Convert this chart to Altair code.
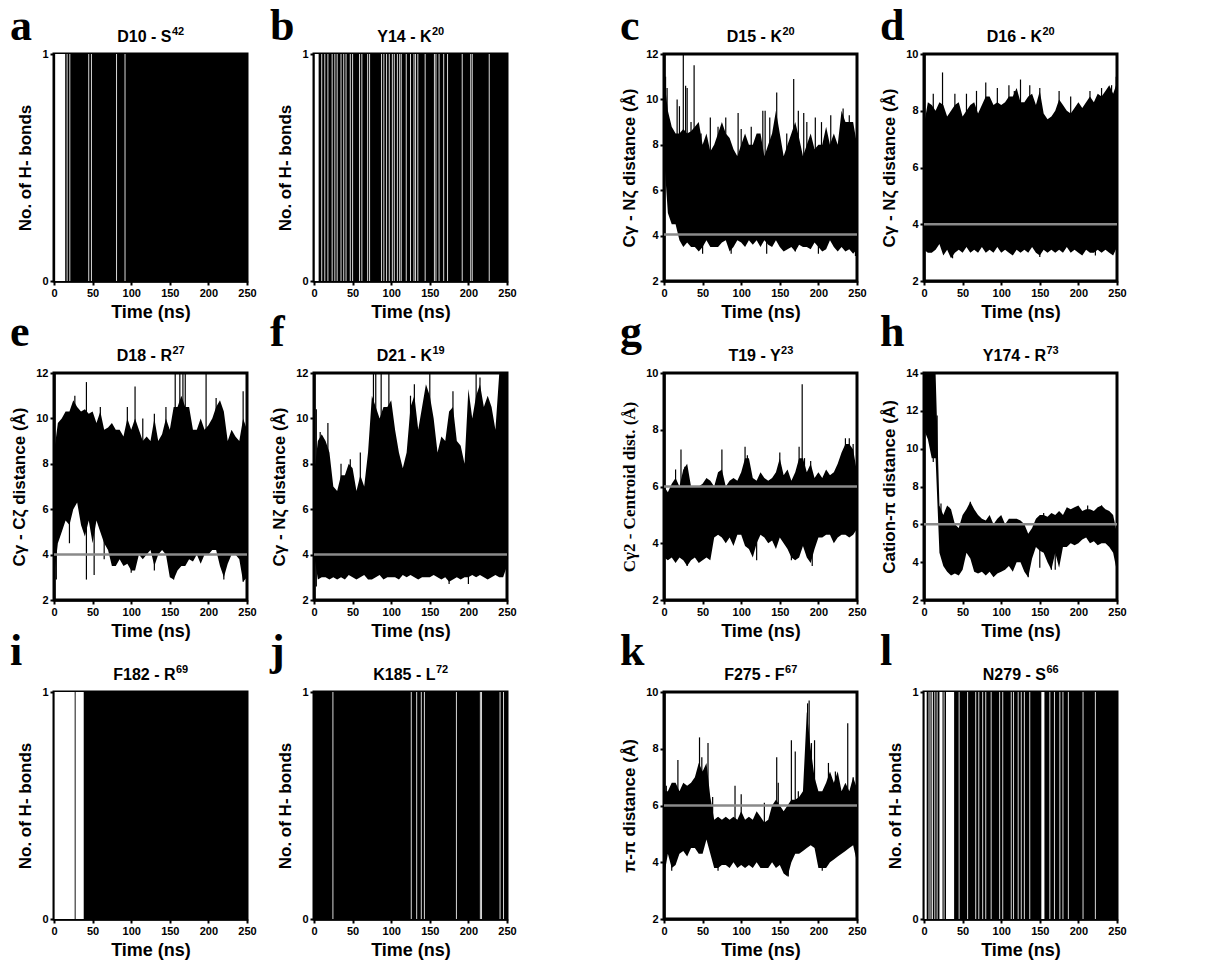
import altair as alt
import pandas as pd

# ---------------- data ----------------
T = list(range(0, 251, 5))  # sampling times (ns) for the envelopes
X_TICKS = [0, 50, 100, 150, 200, 250]

# H-bond panels: intervals (ns) with no H-bond, and single-frame breaks
A_GAPS = [(1.5, 14.5)]
A_BREAKS = [17, 20.5, 45, 48.5, 81, 92]
B_GAPS = [(1.0, 6.0)]
B_BREAKS = [10, 14, 18, 23.5, 27, 30, 35, 38.5, 41.5, 47, 50, 59, 62, 69.5, 72,
            87.5, 90.5, 94, 97.5, 101.5, 104, 108, 111, 113, 119.5, 125, 129.5,
            131.5, 134.5, 144, 156, 158, 162, 168, 173, 192, 203, 205, 227]
I_GAPS = [(0.8, 26.8), (28.0, 38.5)]
I_BREAKS = []
J_GAPS = []
J_BREAKS = [24.5, 126, 133, 139, 143, 184.5, 215.5, 217, 241, 245.5]
L_GAPS = [(0.8, 3.5), (20.0, 24.0), (28.5, 39.0), (152.0, 156.0)]
L_BREAKS = [6.5, 9, 11, 14, 17, 26, 45.5, 56.5, 67, 71, 76, 80, 87, 98, 102, 113,
            116, 122, 126, 130, 137, 163, 169, 176, 180, 187, 206, 222]

# Distance panels: upper / lower envelopes at T, plus spikes (t, value)
C_HI = [11.0, 9.5, 8.8, 8.5, 8.5, 8.7, 8.5, 8.6, 8.8, 9.0,
        8.0, 8.5, 7.7, 8.0, 8.5, 9.0, 8.5, 8.3, 7.8, 7.5,
        8.0, 8.5, 8.0, 8.0, 8.5, 8.5, 7.5, 8.0, 8.5, 9.5,
        8.5, 7.5, 8.0, 8.5, 9.0, 8.3, 7.5, 8.0, 8.5, 7.8,
        8.0, 8.0, 8.8, 8.0, 8.5, 8.0, 9.5, 9.0, 9.0, 9.0, 8.0]
C_LO = [7.5, 5.0, 4.5, 4.5, 3.8, 3.5, 3.7, 3.5, 3.5, 3.3,
        3.5, 3.8, 3.5, 3.5, 3.5, 3.7, 3.8, 3.3, 3.5, 3.8,
        3.7, 3.5, 3.8, 3.6, 3.8, 3.5, 3.8, 3.6, 3.5, 3.8,
        3.5, 3.3, 3.4, 3.5, 3.3, 3.6, 3.5, 3.5, 3.4, 3.7,
        3.5, 3.3, 3.4, 3.8, 3.5, 3.3, 3.5, 3.3, 3.4, 3.2, 3.4]
C_SPIKES = [(2, 11.0), (4, 10.5), (17, 10.0), (20, 9.7), (25, 12.0), (28, 10.6),
            (30, 10.5), (35, 9.0), (39, 11.5), (48, 8.5), (60, 9.2), (70, 8.8),
            (80, 9.2), (96, 9.4), (100, 8.7), (113, 8.8), (128, 9.5), (131, 9.5),
            (137, 9.2), (146, 10.3), (159, 8.5), (168, 10.9), (174, 9.5),
            (181, 9.4), (185, 9.0), (196, 9.2), (204, 9.0), (216, 9.3),
            (232, 9.6), (240, 9.3),
            (50, 3.2), (87, 3.2), (133, 3.2), (170, 3.3), (200, 3.2), (248, 3.1)]

D_HI = [7.5, 8.3, 8.2, 8.0, 8.3, 8.2, 7.8, 8.0, 8.2, 8.3,
        7.8, 8.0, 8.2, 8.3, 7.9, 8.2, 8.5, 8.5, 8.2, 8.3,
        8.2, 8.3, 8.5, 8.5, 8.8, 8.3, 8.3, 8.5, 8.6, 8.2,
        8.7, 7.9, 7.7, 7.8, 8.0, 8.4, 8.2, 8.0, 7.9, 8.1,
        8.3, 8.1, 8.3, 8.5, 8.3, 8.6, 8.5, 8.7, 8.9, 8.6, 9.0]
D_LO = [3.1, 3.0, 3.0, 3.1, 3.3, 2.9, 3.1, 2.8, 3.0, 3.1,
        3.0, 3.2, 3.0, 3.1, 3.0, 3.2, 3.0, 3.1, 3.0, 3.2,
        3.0, 3.1, 3.0, 2.9, 3.1, 3.0, 3.1, 3.0, 3.2, 3.0,
        2.9, 3.1, 3.0, 3.1, 3.0, 3.1, 3.0, 3.2, 3.0, 3.1,
        3.0, 2.9, 3.1, 3.0, 3.0, 3.1, 3.0, 3.1, 3.0, 2.9, 3.2]
D_SPIKES = [(12, 8.6), (24, 9.35), (40, 8.6), (55, 8.6), (68, 8.7), (80, 9.0),
            (95, 8.8), (110, 8.9), (117, 8.7), (125, 9.1), (137, 8.9), (150, 8.8),
            (175, 8.7), (190, 8.5), (215, 8.7), (230, 8.8), (243, 8.9), (249, 9.2),
            (37, 2.8), (150, 2.85), (222, 2.9)]

E_HI = [8.5, 9.8, 10.0, 10.3, 10.3, 10.8, 10.5, 10.3, 10.4, 10.2,
        10.3, 9.8, 10.3, 9.5, 9.6, 9.8, 9.5, 9.5, 9.2, 10.0,
        9.5, 10.0, 9.5, 9.0, 9.2, 9.0, 10.0, 9.0, 9.3, 10.0,
        9.5, 10.5, 10.5, 11.0, 10.5, 10.5, 9.5, 9.5, 10.0, 9.5,
        9.7, 10.0, 10.5, 10.8, 10.3, 9.0, 9.5, 9.2, 9.0, 10.0, 9.5]
E_LO = [3.0, 4.5, 5.0, 5.5, 5.3, 6.0, 6.3, 5.3, 4.8, 5.5,
        4.5, 5.5, 5.0, 4.5, 4.2, 3.5, 3.5, 3.8, 3.5, 3.6,
        3.3, 3.3, 4.0, 3.8, 4.0, 4.2, 3.5, 4.0, 4.2, 4.0,
        3.0, 2.9, 3.3, 3.5, 3.5, 3.8, 3.7, 4.0, 3.6, 4.0,
        4.0, 4.2, 4.2, 3.5, 3.0, 3.6, 4.0, 4.0, 3.8, 2.8, 3.0]
E_SPIKES = [(27, 11.0), (42, 11.6), (60, 10.5), (95, 10.5), (105, 11.4), (115, 10.0),
            (130, 10.2), (145, 10.5), (157, 12.0), (163, 12.0), (167, 12.0),
            (170, 12.0), (197, 12.0), (210, 10.9), (245, 11.2),
            (3, 2.9), (20, 4.5), (42, 2.9), (52, 3.1), (65, 3.8), (100, 3.2),
            (130, 3.3), (155, 2.9), (220, 2.9), (245, 2.8)]

F_HI = [7.5, 9.0, 9.3, 9.0, 8.5, 7.0, 6.8, 7.5, 7.5, 8.0,
        7.8, 6.8, 7.5, 7.0, 8.5, 11.0, 10.5, 10.0, 10.5, 10.5,
        10.8, 9.5, 8.5, 7.8, 8.5, 10.5, 11.0, 9.5, 10.5, 11.5,
        11.0, 10.0, 8.5, 9.2, 9.0, 10.3, 10.5, 9.0, 8.8, 8.0,
        11.3, 10.0, 11.0, 11.5, 10.5, 11.0, 10.5, 9.5, 12.0, 12.0, 12.0]
F_LO = [4.0, 2.9, 3.0, 3.0, 2.9, 3.0, 2.9, 3.0, 2.9, 3.1,
        3.0, 2.9, 3.0, 3.1, 2.9, 2.9, 3.0, 3.1, 2.9, 3.0,
        3.0, 3.0, 2.9, 3.1, 3.0, 3.1, 3.0, 2.9, 3.0, 3.0,
        3.0, 3.1, 3.0, 2.9, 3.0, 2.8, 2.9, 3.0, 2.9, 3.0,
        3.0, 3.1, 3.0, 3.1, 3.0, 2.9, 3.0, 3.1, 3.0, 3.0, 3.5]
F_SPIKES = [(3, 10.4), (8, 9.4), (18, 9.8), (35, 8.0), (47, 8.2), (60, 8.5),
            (77, 12.0), (80, 12.0), (87, 12.0), (97, 12.0), (125, 11.0), (130, 11.5),
            (150, 12.0), (180, 11.2), (210, 12.0), (215, 11.8),
            (3, 2.6), (175, 2.7), (200, 2.7)]

G_HI = [6.0, 5.8, 6.1, 6.3, 6.0, 6.6, 6.8, 6.0, 6.0, 6.0,
        6.1, 6.3, 6.2, 6.0, 6.5, 6.6, 6.0, 6.2, 6.3, 6.2,
        6.5, 7.0, 7.0, 6.3, 6.2, 6.5, 6.3, 6.2, 6.3, 6.5,
        7.0, 6.4, 6.6, 6.2, 6.5, 7.0, 7.0, 6.5, 6.8, 6.3,
        6.5, 6.3, 6.6, 6.4, 6.5, 6.8, 7.2, 7.5, 7.5, 7.3, 6.5]
G_LO = [3.5, 3.4, 3.5, 3.3, 3.5, 3.4, 3.2, 3.4, 3.5, 3.3,
        3.4, 3.5, 3.4, 4.2, 4.3, 4.2, 4.0, 4.2, 3.9, 4.3,
        4.3, 3.9, 3.8, 3.5, 4.0, 4.3, 4.2, 4.0, 4.1, 3.8,
        4.2, 4.0, 3.8, 3.5, 3.4, 3.5, 3.9, 3.5, 3.3, 3.8,
        4.2, 4.2, 4.3, 4.3, 4.0, 4.2, 4.3, 4.3, 4.2, 4.3, 4.5]
G_SPIKES = [(15, 6.6), (22, 7.3), (27, 6.7), (75, 7.3), (105, 7.4), (108, 7.1),
            (150, 7.2), (175, 7.4), (179, 9.6), (182, 7.0), (190, 6.9),
            (235, 7.7), (240, 7.7), (245, 7.5),
            (30, 3.2), (120, 3.4), (165, 3.4), (192, 3.2)]

H_HI = [14.0, 14.0, 14.0, 14.0, 7.0, 6.5, 7.0, 6.8, 6.0, 5.8,
        6.5, 6.8, 7.2, 6.8, 6.5, 6.3, 6.2, 6.5, 6.0, 6.3,
        6.5, 6.0, 6.3, 6.3, 6.3, 6.2, 6.0, 5.5, 5.8, 6.3,
        6.5, 6.5, 6.4, 6.6, 6.5, 6.7, 6.5, 6.9, 6.8, 6.9,
        7.0, 6.7, 6.8, 6.8, 6.7, 6.9, 7.0, 6.8, 6.7, 6.5, 5.5]
H_LO = [11.0, 10.5, 9.5, 9.5, 4.5, 3.8, 3.5, 3.3, 3.4, 3.3,
        3.6, 4.5, 4.2, 3.5, 3.4, 3.5, 3.3, 3.5, 3.2, 3.4,
        3.5, 3.6, 3.8, 3.5, 4.0, 4.0, 3.5, 3.2, 4.2, 4.8,
        4.6, 4.5, 4.0, 3.6, 4.5, 3.7, 4.8, 4.8, 5.0, 4.9,
        5.0, 5.2, 5.3, 5.0, 5.1, 4.9, 5.0, 5.0, 4.8, 4.5, 3.5]
H_SPIKES = [(17, 9.0), (22, 7.1), (32, 6.9), (60, 7.2), (155, 6.6), (212, 7.0),
            (230, 7.0),
            (7, 10.5), (12, 9.3), (135, 3.2), (150, 3.7), (165, 3.6), (170, 3.6),
            (250, 3.4)]

K_HI = [6.5, 6.5, 6.8, 6.8, 6.5, 6.8, 6.7, 6.8, 7.0, 7.5,
        7.2, 7.5, 6.3, 5.5, 5.6, 5.5, 5.6, 5.5, 5.6, 5.5,
        5.8, 5.5, 5.6, 5.5, 5.8, 5.6, 5.4, 5.5, 6.0, 6.2,
        6.0, 5.8, 6.0, 6.2, 6.2, 6.3, 6.5, 9.3, 8.0, 7.0,
        6.5, 6.5, 6.8, 7.2, 6.8, 7.2, 6.5, 6.8, 6.5, 7.0, 6.6]
K_LO = [3.5, 4.3, 3.8, 3.9, 4.3, 4.4, 4.2, 4.5, 4.5, 4.3,
        4.3, 4.8, 4.3, 3.8, 3.8, 3.9, 3.9, 3.8, 4.0, 3.8,
        3.9, 3.8, 3.9, 3.8, 4.0, 3.8, 3.8, 3.8, 4.0, 3.8,
        3.9, 3.6, 3.5, 4.0, 4.3, 4.3, 4.4, 4.5, 4.6, 4.5,
        3.8, 3.8, 3.8, 4.0, 4.1, 4.2, 4.3, 4.4, 4.5, 4.6, 4.0]
K_SPIKES = [(3, 6.7), (18, 7.6), (46, 8.4), (49, 7.7), (57, 8.2), (63, 6.3),
            (92, 6.7), (100, 6.4), (130, 6.1), (146, 7.7), (148, 6.8), (165, 8.3),
            (170, 7.9), (174, 6.5), (186, 9.6), (188, 9.7), (191, 8.2), (195, 8.3),
            (213, 7.5), (222, 7.2), (238, 8.9), (245, 7.0),
            (0, 3.5), (10, 3.7), (70, 3.7), (161, 3.5), (205, 3.7)]

TITLES = [("a", "D10 - S", "42"), ("b", "Y14 - K", "20"), ("c", "D15 - K", "20"),
          ("d", "D16 - K", "20"), ("e", "D18 - R", "27"), ("f", "D21 - K", "19"),
          ("g", "T19 - Y", "23"), ("h", "Y174 - R", "73"), ("i", "F182 - R", "69"),
          ("j", "K185 - L", "72"), ("k", "F275 - F", "67"), ("l", "N279 - S", "66")]

# ---------------- styling ----------------
SANS = "Liberation Sans, Arial, sans-serif"
NARROW = "Liberation Sans Narrow, Arial Narrow, Liberation Sans, sans-serif"
SERIF = "Liberation Serif, Times New Roman, serif"
W, H = 193, 227
GRAY = "#8a8a8a"
COL_GAP = 67
MID_GAP = 157
TFS, SFS = 16, 11
# approximate bold glyph advance widths (em) used only to centre title + superscript
EM = {"D": .722, "S": .667, "Y": .667, "K": .722, "R": .722, "T": .611, "F": .611,
      "N": .722, "L": .611, " ": .278, "-": .333}


def text_w(s, size):
    return sum(EM.get(ch, .556) for ch in s) * size


def x_enc(field="t0:Q"):
    return alt.X(field, scale=alt.Scale(domain=[0, 250], nice=False, zero=False),
                 axis=alt.Axis(values=X_TICKS, title="Time (ns)", labelOverlap=False))


def y_enc(field, dom, ticks, title, tfont=SANS, fmt="d"):
    return alt.Y(field, scale=alt.Scale(domain=dom, nice=False, zero=False),
                 axis=alt.Axis(values=ticks, title=title, titleFont=tfont,
                               labelOverlap=False, format=fmt))


def head_layers(idx, dy):
    letter, main, sup = TITLES[idx]
    mw, sw = text_w(main, TFS), text_w(sup, SFS)
    jx = W / 2 - (mw + sw) / 2 + mw
    lt = alt.Chart(alt.Data(values=[{"s": letter}])).mark_text(
        font=SERIF, fontSize=44, fontWeight="bold", align="left", baseline="alphabetic"
    ).encode(text="s:N", x=alt.value(-44), y=alt.value(dy))
    mt = alt.Chart(alt.Data(values=[{"s": main}])).mark_text(
        font=SANS, fontSize=TFS, fontWeight="bold", align="right", baseline="alphabetic"
    ).encode(text="s:N", x=alt.value(jx), y=alt.value(-12))
    st = alt.Chart(alt.Data(values=[{"s": sup}])).mark_text(
        font=SANS, fontSize=SFS, fontWeight="bold", align="left", baseline="alphabetic"
    ).encode(text="s:N", x=alt.value(jx + 0.5), y=alt.value(-19))
    return [lt, mt, st]


def hbond_panel(idx, gaps, breaks, dy):
    yt = "No. of H- bonds"
    bg = alt.Chart(pd.DataFrame({"t0": [0], "t1": [250], "y0": [0], "y1": [1]})).mark_rect(
        color="black").encode(
        x=x_enc(), x2="t1:Q", y=y_enc("y0:Q", [0, 1], [0, 1], yt), y2="y1:Q")
    layers = [bg]
    if gaps:
        gdf = pd.DataFrame({"t0": [g[0] for g in gaps], "t1": [g[1] for g in gaps],
                            "y0": [0] * len(gaps), "y1": [1] * len(gaps)})
        layers.append(alt.Chart(gdf).mark_rect(color="white").encode(
            x=x_enc(), x2="t1:Q", y=y_enc("y0:Q", [0, 1], [0, 1], yt), y2="y1:Q"))
    if breaks:
        bdf = pd.DataFrame({"t0": breaks, "y0": [0] * len(breaks), "y1": [1] * len(breaks)})
        layers.append(alt.Chart(bdf).mark_rule(color="#d8d8d8", strokeWidth=1).encode(
            x=x_enc(), y=y_enc("y0:Q", [0, 1], [0, 1], yt), y2="y1:Q"))
    layers += head_layers(idx, dy)
    return alt.layer(*layers).properties(width=W, height=H)


def dist_panel(idx, ytitle, ymax, hi, lo, spikes, thr, dy, ytfont=SANS):
    ticks = list(range(2, ymax + 1, 2))
    dom = [2, ymax]
    df = pd.DataFrame({"t0": T, "hi": hi, "lo": lo})
    band = alt.Chart(df).mark_area(color="black", clip=True, strokeWidth=0).encode(
        x=x_enc(), y=y_enc("hi:Q", dom, ticks, ytitle, ytfont), y2="lo:Q")
    mids = {t: (h + l) / 2 for t, h, l in zip(T, hi, lo)}
    sdf = pd.DataFrame({
        "t0": [s[0] for s in spikes],
        "hi": [s[1] for s in spikes],
        "lo": [mids[min(T, key=lambda v: abs(v - s[0]))] for s in spikes],
    })
    spk = alt.Chart(sdf).mark_rule(color="black", strokeWidth=1.2, clip=True).encode(
        x=x_enc(), y=y_enc("hi:Q", dom, ticks, ytitle, ytfont), y2="lo:Q")
    thr_l = alt.Chart(pd.DataFrame({"hi": [thr]})).mark_rule(
        color=GRAY, strokeWidth=2.5).encode(y=y_enc("hi:Q", dom, ticks, ytitle, ytfont))
    return alt.layer(band, spk, thr_l, *head_layers(idx, dy)).properties(
        width=W, height=H)


def spacer():
    return alt.Chart(alt.Data(values=[{"s": ""}])).mark_text().encode(
        text="s:N").properties(width=MID_GAP - 2 * COL_GAP, height=H,
                               view=alt.ViewBackground(stroke="transparent", strokeWidth=0))


CN = "C\u03b3 - N\u03b6 distance (\u00c5)"
R1, R2 = -14, -27
pa = hbond_panel(0, A_GAPS, A_BREAKS, R1)
pb = hbond_panel(1, B_GAPS, B_BREAKS, R1)
pc = dist_panel(2, CN, 12, C_HI, C_LO, C_SPIKES, 4.05, R1)
pd_ = dist_panel(3, CN, 10, D_HI, D_LO, D_SPIKES, 4.0, R1)
pe = dist_panel(4, "C\u03b3 - C\u03b6 distance (\u00c5)", 12, E_HI, E_LO, E_SPIKES, 4.0, R2)
pf = dist_panel(5, CN, 12, F_HI, F_LO, F_SPIKES, 4.0, R2)
pg = dist_panel(6, "C\u03b32 - Centroid dist. (\u00c5)", 10, G_HI, G_LO, G_SPIKES, 6.0, R2, ytfont=SERIF)
ph = dist_panel(7, "Cation-\u03c0 distance (\u00c5)", 14, H_HI, H_LO, H_SPIKES, 6.0, R2)
pi = hbond_panel(8, I_GAPS, I_BREAKS, R2)
pj = hbond_panel(9, J_GAPS, J_BREAKS, R2)
pk = dist_panel(10, "\u03c0-\u03c0 distance (\u00c5)", 10, K_HI, K_LO, K_SPIKES, 6.0, R2)
pl = hbond_panel(11, L_GAPS, L_BREAKS, R2)

cells = [pa, pb, spacer(), pc, pd_,
         pe, pf, spacer(), pg, ph,
         pi, pj, spacer(), pk, pl]

chart = alt.concat(*cells, columns=5, spacing={"row": 92, "column": COL_GAP},
                   bounds="flush").properties(
    padding={"left": 0, "top": -5, "right": 0, "bottom": 0}
).configure_view(
    stroke="black", strokeWidth=3
).configure_axis(
    grid=False, domainColor="black", domainWidth=2.5, tickColor="black", tickWidth=2,
    tickSize=4, labelFont=NARROW, labelFontSize=11, labelFontWeight="bold", labelColor="black",
    labelPadding=2, titleFont=SANS, titleFontSize=17,
    titleFontWeight="bold", titleColor="black"
).configure_axisX(
    titleFontSize=18, titlePadding=5, labelFlush=False
).configure_axisY(
    titlePadding=7, labelFlush=False
)

chart.save("out.html", embed_options={"renderer": "svg", "actions": False})
